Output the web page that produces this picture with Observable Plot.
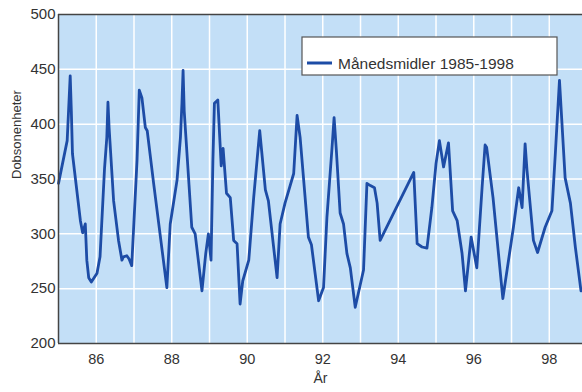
<!DOCTYPE html>
<html><head><meta charset="utf-8">
<script src="https://cdn.jsdelivr.net/npm/d3@7"></script>
<script src="https://cdn.jsdelivr.net/npm/@observablehq/plot@0.6"></script>
<style>body{margin:0;background:#fff}</style>
</head><body><div id="chart"></div>
<script>
const tid = [85.00,85.23,85.31,85.34,85.37,85.58,85.64,85.71,85.75,85.80,85.87,86.02,86.10,86.22,86.28,86.31,86.34,86.46,86.59,86.68,86.72,86.81,86.87,86.94,87.08,87.14,87.21,87.30,87.35,87.52,87.87,87.96,88.14,88.23,88.27,88.30,88.33,88.53,88.62,88.80,88.90,88.97,89.04,89.09,89.13,89.22,89.31,89.36,89.45,89.55,89.64,89.73,89.81,89.88,90.04,90.17,90.33,90.48,90.56,90.79,90.87,91.00,91.23,91.32,91.40,91.62,91.70,91.89,92.02,92.11,92.24,92.30,92.36,92.46,92.55,92.64,92.73,92.86,93.08,93.17,93.26,93.37,93.44,93.52,94.41,94.50,94.63,94.76,94.89,95.00,95.09,95.20,95.33,95.44,95.56,95.69,95.78,95.93,96.08,96.22,96.30,96.34,96.51,96.77,97.05,97.19,97.28,97.36,97.41,97.58,97.69,97.89,98.07,98.16,98.27,98.42,98.56,98.69,98.84];
const ozon = [346,385,444,412,373,312,301,309,276,260,256,264,279,360,388,420,397,330,294,276,279,280,277,271,367,431,424,397,394,346,251,309,349,388,419,449,412,306,300,248,282,300,276,367,419,422,362,378,337,333,294,291,236,257,276,333,394,340,330,260,309,328,355,408,388,297,290,239,251,315,376,406,376,319,309,282,269,233,267,346,344,342,328,294,356,291,288,287,324,364,385,361,383,321,312,282,248,297,269,342,381,379,333,241,306,342,324,382,358,294,283,306,321,373,440,351,328,288,248];
const xTicks = [86,88,90,92,94,96,98];
const yTicks = [200,250,300,350,400,450,500];
const gridYears = [86,87,88,89,90,91,92,93,94,95,96,97,98];
const gridValues = [250,300,350,400,450];
const legendLabel = "Månedsmidler 1985-1998";
const xLabel = "År";
const yLabel = "Dobsonenheter";

const data = tid.map((t, i) => ({t, v: ozon[i]}));
const lineColor = "#1d4ca6";

const chart = Plot.plot({
  width: 582, height: 392,
  marginLeft: 58, marginRight: 0, marginTop: 14, marginBottom: 49,
  style: {fontFamily: "'Liberation Sans', Arial, sans-serif", fontSize: "14px", color: "#333", background: "white"},
  x: {domain: [85, 98.88]},
  y: {domain: [200, 500]},
  marks: [
    Plot.frame({fill: "#c3dff7", stroke: null}),
    Plot.gridX(gridYears, {stroke: "white", strokeOpacity: 1, strokeWidth: 1.5}),
    Plot.gridY(gridValues, {stroke: "white", strokeOpacity: 1, strokeWidth: 1.5}),
    Plot.axisX(xTicks, {tickSize: 0, tickPadding: 10, label: null, fontSize: 14.5, fill: "#333"}),
    Plot.axisY(yTicks, {tickSize: 0, tickPadding: 3, label: null, fontSize: 15, fill: "#333"}),
    Plot.line(data, {x: "t", y: "v", stroke: lineColor, strokeWidth: 2.8, strokeLinejoin: "round"}),
    Plot.ruleX([85], {stroke: "#444", strokeWidth: 1.5}),
    Plot.ruleY([200, 500], {stroke: "#444", strokeWidth: 1.5}),
    Plot.text([xLabel], {frameAnchor: "bottom", dy: 39, fontSize: 14, fill: "#333"}),
    Plot.text([yLabel], {frameAnchor: "left", dx: -42, rotate: -90, fontSize: 13, fill: "#333"})
  ]
});

const svg = d3.select(chart);
const lg = svg.append("g").attr("transform", "translate(302,37)");
lg.append("rect").attr("width", 255).attr("height", 38).attr("fill", "white").attr("stroke", "#555").attr("stroke-width", 1.2);
lg.append("line").attr("x1", 5).attr("x2", 30).attr("y1", 26).attr("y2", 26).attr("stroke", lineColor).attr("stroke-width", 3);
lg.append("text").attr("x", 36).attr("y", 31.5).attr("text-anchor", "start").attr("font-size", 15.5).attr("fill", "#333").text(legendLabel);

document.getElementById("chart").appendChild(chart);
</script>
</body></html>
